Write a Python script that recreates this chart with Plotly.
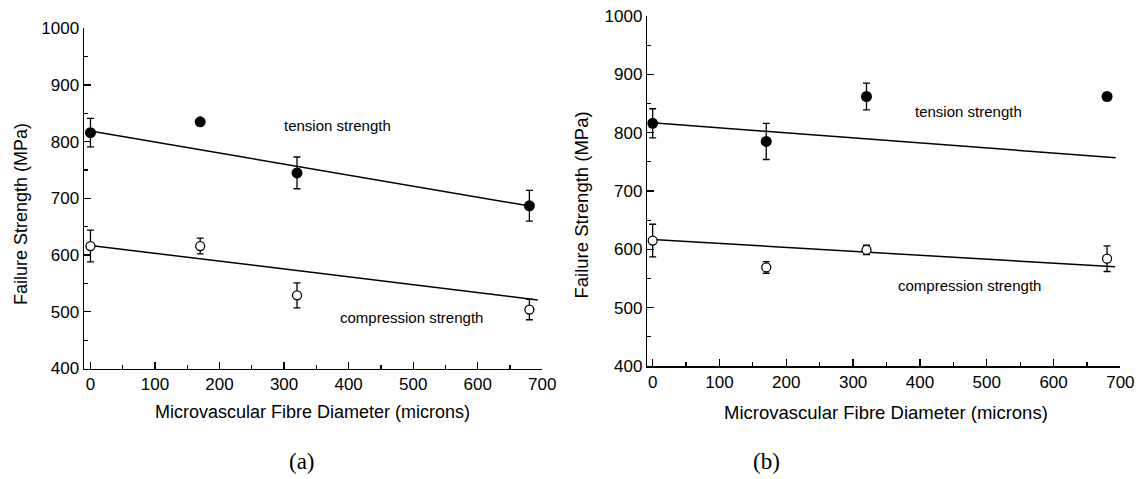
import plotly.graph_objects as go

# ---- data ----
diam = [0, 170, 320, 680]

a_tension = [816, 835, 745, 687]
a_tension_err = [25, 3, 28, 27]
a_comp = [616, 616, 529, 504]
a_comp_err = [28, 14, 22, 18]

b_tension = [816, 785, 862, 862]
b_tension_err = [25, 31, 23, 3]
b_comp = [615, 569, 599, 584]
b_comp_err = [28, 10, 8, 22]

# linear fit lines (end points)
a_fit_t_x = [0, 683]
a_fit_t_y = [819, 686]
a_fit_c_x = [0, 693]
a_fit_c_y = [617, 521]
b_fit_t_x = [0, 693]
b_fit_t_y = [817, 757]
b_fit_c_x = [0, 692]
b_fit_c_y = [617, 570]

x_title = "Microvascular Fibre Diameter (microns)"
y_title = "Failure Strength (MPa)"
panel_labels = ["(a)", "(b)"]
series_labels = ["tension strength", "compression strength"]

W, H = 1141, 479
SANS = "Liberation Sans, Arial, sans-serif"
SERIF = "Liberation Serif, Times New Roman, serif"
BLACK = "#000000"

fig = go.Figure()


def add_panel(xa, ya, fx_t, fy_t, fx_c, fy_c, t, te, c, ce):
    fig.add_trace(go.Scatter(x=fx_t, y=fy_t, mode="lines", xaxis=xa, yaxis=ya,
                             line=dict(color=BLACK, width=1.5), showlegend=False,
                             hoverinfo="skip"))
    fig.add_trace(go.Scatter(x=fx_c, y=fy_c, mode="lines", xaxis=xa, yaxis=ya,
                             line=dict(color=BLACK, width=1.5), showlegend=False,
                             hoverinfo="skip"))
    fig.add_trace(go.Scatter(x=diam, y=t, mode="markers", xaxis=xa, yaxis=ya,
                             marker=dict(symbol="circle", size=11, color=BLACK,
                                         line=dict(color=BLACK, width=0)),
                             error_y=dict(type="data", array=te, visible=True,
                                          color=BLACK, thickness=1.3, width=3.5),
                             showlegend=False, name=series_labels[0]))
    fig.add_trace(go.Scatter(x=diam, y=c, mode="markers", xaxis=xa, yaxis=ya,
                             marker=dict(symbol="circle", size=9, color="white",
                                         line=dict(color=BLACK, width=1.3)),
                             error_y=dict(type="data", array=ce, visible=True,
                                          color=BLACK, thickness=1.3, width=3.5),
                             showlegend=False, name=series_labels[1]))


add_panel("x", "y", a_fit_t_x, a_fit_t_y, a_fit_c_x, a_fit_c_y,
          a_tension, a_tension_err, a_comp, a_comp_err)
add_panel("x2", "y2", b_fit_t_x, b_fit_t_y, b_fit_c_x, b_fit_c_y,
          b_tension, b_tension_err, b_comp, b_comp_err)


def axis_cfg(dom, anchor, rng):
    return dict(domain=dom, anchor=anchor, range=rng, showgrid=False, zeroline=False,
                showline=True, linecolor=BLACK, linewidth=1.5, mirror=False,
                ticks="inside", ticklen=7, tickwidth=1.3, tickcolor=BLACK,
                tick0=0, dtick=100, tickfont=dict(family=SANS, size=17, color=BLACK),
                minor=dict(ticks="inside", ticklen=4, tickwidth=1.2, tickcolor=BLACK,
                           dtick=50, tick0=0, showgrid=False),
                automargin=False, fixedrange=True)


fig.update_layout(
    width=W, height=H,
    margin=dict(l=0, r=0, t=0, b=0, pad=0),
    paper_bgcolor="white", plot_bgcolor="white",
    showlegend=False,
    xaxis=axis_cfg([84 / W, 542.3 / W], "y", [-10, 700]),
    yaxis=axis_cfg([1 - 368.5 / H, 1 - 28.3 / H], "x", [400, 1000]),
    xaxis2=axis_cfg([647.3 / W, 1120.4 / W], "y2", [-8, 700]),
    yaxis2=axis_cfg([1 - 366 / H, 1 - 16 / H], "x2", [400, 1000]),
)


def txt(text, x, y, size, family=SANS, xref="paper", yref="paper", angle=0):
    if xref == "paper":
        x = x / W
    if yref == "paper":
        y = 1 - y / H
    return dict(text=text, xref=xref, yref=yref, x=x, y=y, showarrow=False,
                xanchor="center", yanchor="middle", textangle=angle,
                font=dict(family=family, size=size, color=BLACK))


ann = [
    # axis titles (pixel positions)
    txt(x_title, 312, 412, 18),
    txt(x_title, 886, 412, 18.5),
    txt(y_title, 21, 214, 18, angle=-90),
    txt(y_title, 581, 204.5, 18.5, angle=-90),
    # series labels (data coordinates)
    txt(series_labels[0], 383, 828, 15, xref="x", yref="y"),
    txt(series_labels[1], 498, 490, 15, xref="x", yref="y"),
    txt(series_labels[0], 473, 836, 15, xref="x2", yref="y2"),
    txt(series_labels[1], 474, 538, 15, xref="x2", yref="y2"),
    # panel labels
    txt(panel_labels[0], 302, 461, 23, family=SERIF),
    txt(panel_labels[1], 766, 461, 23, family=SERIF),
]
fig.update_layout(annotations=ann)

fig.write_html(
    "out.html",
    config={"displayModeBar": False, "staticPlot": True},
    post_script="document.body.style.margin='0px';document.body.style.overflow='hidden';",
)
